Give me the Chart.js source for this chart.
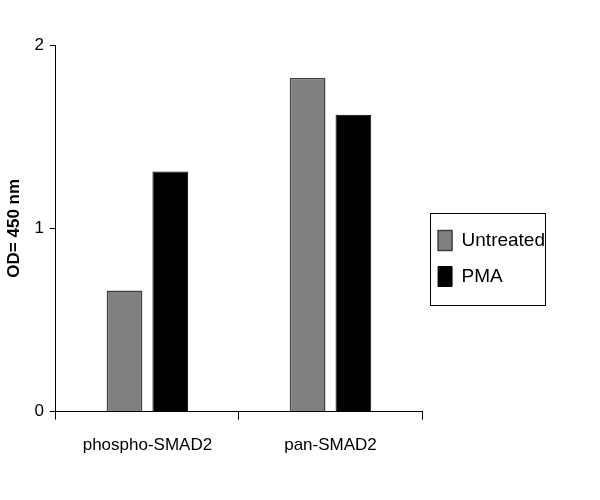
<!DOCTYPE html>
<html><head><meta charset="utf-8">
<script src="https://cdn.jsdelivr.net/npm/chart.js@4"></script>
<style>html,body{margin:0;background:#fff}#w{width:600px;height:500px}</style>
</head><body><div id="w"><canvas id="c"></canvas></div>
<script>
const categories = ["phospho-SMAD2", "pan-SMAD2"];
const untreated = [0.66, 1.82];
const pma = [1.31, 1.62];
const yTicks = [0, 1, 2];

const legendBorder = {
  id: 'legendBorder',
  afterDraw(chart) {
    const l = chart.legend, ctx = chart.ctx;
    const hb = l.legendHitBoxes;
    if (!hb || !hb.length) return;
    const top = Math.min(...hb.map(h => h.top)) - 18;
    const bottom = Math.max(...hb.map(h => h.top + h.height)) + 18;
    const left = Math.min(...hb.map(h => h.left)) - 8;
    const right = left + 115;
    ctx.save();
    ctx.strokeStyle = '#000'; ctx.lineWidth = 1;
    ctx.strokeRect(Math.round(left) + 0.5, Math.round(top) + 0.5, right - left, bottom - top);
    ctx.restore();
  }
};

new Chart(document.getElementById('c'), {
  type: 'bar',
  data: {
    labels: categories,
    datasets: [
      { label: 'Untreated', data: untreated, backgroundColor: '#808080', borderColor: '#404040', borderWidth: 1.5 },
      { label: 'PMA', data: pma, backgroundColor: '#000', borderColor: '#000', borderWidth: 1 }
    ]
  },
  options: {
    responsive: true, maintainAspectRatio: false, animation: false,
    layout: { padding: { top: 45, right: 45, bottom: 28, left: 0 } },
    datasets: { bar: { categoryPercentage: 0.5, barPercentage: 0.78 } },
    plugins: {
      tooltip: { enabled: false },
      legend: {
        position: 'right',
        labels: { color: '#000', font: { family: 'Liberation Sans', size: 19 }, boxWidth: 14, boxHeight: 20, padding: 16 }
      }
    },
    scales: {
      x: {
        grid: { display: true, drawOnChartArea: false, offset: true, color: '#000', tickLength: 8 },
        border: { color: '#000' },
        ticks: { color: '#000', font: { family: 'Liberation Sans', size: 17 }, padding: 16 }
      },
      y: {
        min: 0, max: 2,
        afterBuildTicks: s => { s.ticks = yTicks.map(v => ({ value: v })); },
        grid: { display: true, drawOnChartArea: false, color: '#000', tickLength: 6 },
        border: { color: '#000' },
        ticks: { color: '#000', font: { family: 'Liberation Sans', size: 17 }, padding: 6 },
        title: { display: true, text: 'OD= 450 nm', color: '#000', font: { family: 'Liberation Sans', size: 17, weight: 'bold' }, padding: 4 }
      }
    }
  },
  plugins: [legendBorder]
});
</script></body></html>
